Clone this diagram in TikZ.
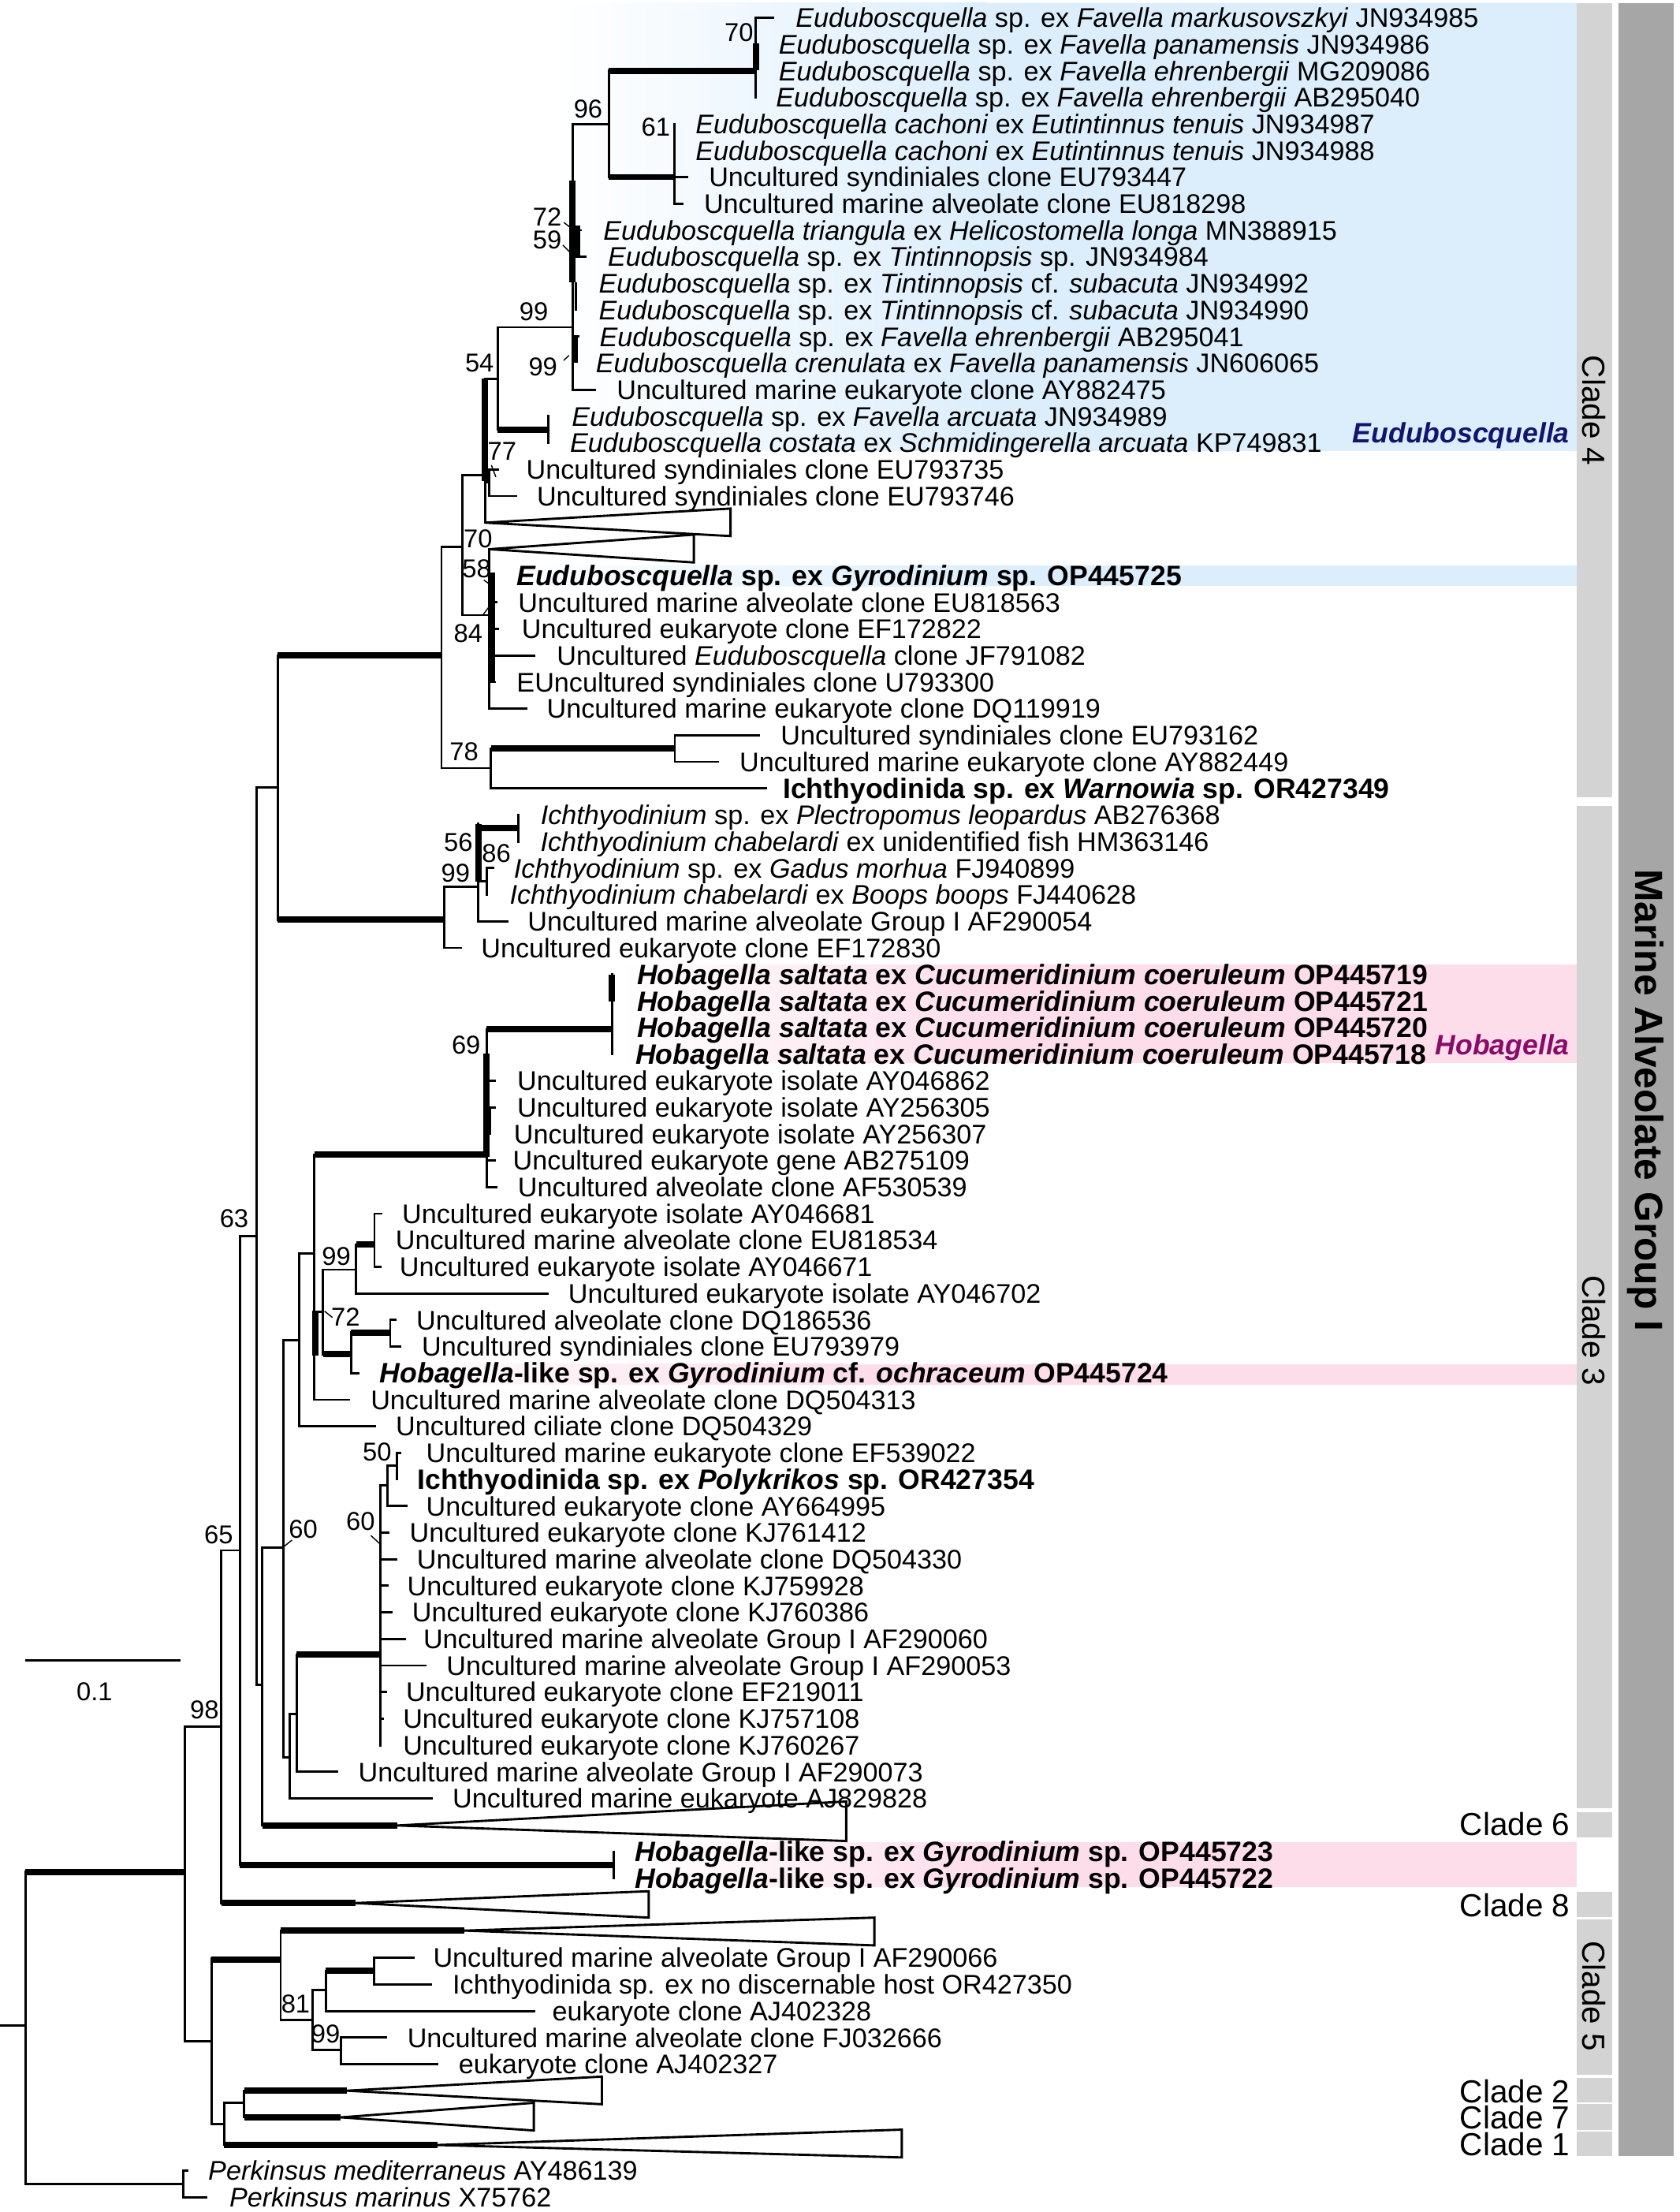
\documentclass[tikz,border=0pt]{standalone}
\usepackage{fontspec}
\setmainfont{Liberation Sans}
\newcommand\lf{\fontsize{19.1}{19.1}\selectfont}
\newcommand\lbf{\fontsize{19.9}{19.9}\selectfont\bfseries}
\newcommand\bsf{\fontsize{18.3}{18.3}\selectfont}
\newcommand\clf{\fontsize{22.6}{22.6}\selectfont}
\newcommand\magf{\fontsize{27.8}{27.8}\selectfont\bfseries}
\definecolor{hlblue}{HTML}{DCEEFC}
\definecolor{hlpink}{HTML}{FDDDEA}
\definecolor{barlight}{HTML}{D3D3D3}
\definecolor{bardark}{HTML}{A6A6A6}
\definecolor{navy}{HTML}{14146E}
\definecolor{plum}{HTML}{8A0A6A}
\begin{document}
\begin{tikzpicture}[x=1pt,y=-1pt,
  br/.style={line width=1.6pt,line cap=rect},
  tk/.style={line width=4.4pt,line cap=butt},
  tri/.style={line width=1.6pt,line join=miter},
  ld/.style={line width=0.8pt},
  lab/.style={anchor=base west,inner sep=0pt,yshift=-6.85pt,font=\lf},
  blab/.style={anchor=base west,inner sep=0pt,yshift=-7.1pt,font=\lbf},
  bs/.style={inner sep=0pt,font=\bsf},
  cl/.style={anchor=base east,inner sep=0pt,yshift=-8.1pt,font=\clf},
  vcl/.style={rotate=-90,inner sep=0pt,font=\clf},
]
\useasboundingbox (0,0) rectangle (1191,1568);
% ---------- highlight boxes ----------
\fill[left color=white,right color=hlblue] (395,2) rectangle (700,319.5);
\fill[hlblue] (699.5,2) rectangle (1118,319.5);
\fill[left color=white,right color=hlblue] (360,401) rectangle (700,415.5);
\fill[hlblue] (699.5,401) rectangle (1118,415.5);
\fill[left color=white,right color=hlpink] (440,683.7) rectangle (700,753.3);
\fill[hlpink] (699.5,683.7) rectangle (1118,753.3);
\fill[left color=white,right color=hlpink] (262,967) rectangle (600,981.4);
\fill[hlpink] (599.5,967) rectangle (1118,981.4);
\fill[left color=white,right color=hlpink] (445,1306) rectangle (700,1337.5);
\fill[hlpink] (699.5,1306) rectangle (1118,1337.5);
% ---------- clade bars ----------
\fill[barlight] (1118,2) rectangle (1143,565.4);
\fill[barlight] (1118,571.4) rectangle (1143,1281.5);
\fill[barlight] (1118,1284.3) rectangle (1143,1302.2);
\fill[barlight] (1118,1341.2) rectangle (1143,1359);
\fill[barlight] (1118,1360.4) rectangle (1143,1470.9);
\fill[barlight] (1118,1473.2) rectangle (1143,1490.4);
\fill[barlight] (1118,1491.6) rectangle (1143,1509.6);
\fill[barlight] (1118,1511) rectangle (1143,1528.2);
\fill[bardark] (1147.4,2) rectangle (1187,1528.2);
\node[vcl] (c4) at (1130.5,291) {Clade 4};
\node[vcl] (c3) at (1130.5,943) {Clade 3};
\node[vcl] (c5) at (1130.5,1415) {Clade 5};
\node[rotate=-90,inner sep=0pt,font=\magf] (mag) at (1167,780) {Marine Alveolate Group I};
\node[cl] (c6) at (1113.3,1293) {Clade 6};
\node[cl] (c8) at (1113.3,1350.3) {Clade 8};
\node[cl] (c2) at (1113.3,1482.3) {Clade 2};
\node[cl] (c7) at (1113.3,1501) {Clade 7};
\node[cl] (c1) at (1113.3,1519.7) {Clade 1};
\node[anchor=base east,inner sep=0pt,yshift=-6.8pt,font=\lbf,text=navy] (gE) at (1113,307) {\textit{Euduboscquella}};
\node[anchor=base east,inner sep=0pt,yshift=-6.6pt,font=\lbf,text=plum] (gH) at (1113,741) {\textit{Hobagella}};
% ---------- scale bar ----------
\draw[br] (18.7,1177)--(127.3,1177);
\node[bs] (sc) at (67,1199) {0.1};
% ---------- tree ----------
% root
\draw[br] (0,1436)--(18,1436);
\draw[br] (18,1327)--(18,1548);
\draw[tk] (18,1327)--(131,1327);
\draw[br] (18,1548)--(130,1548);
\draw[br] (130,1538.5)--(130,1557.4);
\draw[br] (130,1538.5)--(133,1538.5);
\draw[br] (130,1557.4)--(146,1557.4);
% node 98
\draw[br] (131,1224)--(131,1447);
\draw[br] (131,1224)--(157,1224);
\draw[br] (131,1447)--(150,1447);
% node 65
\draw[br] (157,1099)--(157,1349);
\draw[br] (157,1099)--(170,1099);
\draw[tk] (157,1349)--(252,1349);
\draw[tri] (252,1349)--(460,1340.6)--(460,1359.3)--cycle;
% node 170
\draw[br] (170,876)--(170,1322);
\draw[br] (170,876)--(182,876);
\draw[tk] (170,1322)--(435,1322);
\draw[br] (435,1312.5)--(435,1331.3);
% node 182 (63)
\draw[br] (182,558)--(182,1194.5);
\draw[br] (182,558)--(197,558);
\draw[br] (182,1194.5)--(186,1194.5);
% node 197
\draw[br] (197,464.5)--(197,652);
\draw[tk] (197,464.5)--(313,464.5);
\draw[tk] (197,652)--(315,652);
% node 313
\draw[br] (313,387.5)--(313,544.5);
\draw[br] (313,387.5)--(328,387.5);
\draw[br] (313,544.5)--(348,544.5);
% node 78
\draw[br] (348,530.6)--(348,558.9);
\draw[tk] (348,530.6)--(478.5,530.6);
\draw[br] (478.5,521.2)--(478.5,540);
\draw[br] (478.5,521.2)--(538,521.2);
\draw[br] (478.5,540)--(509,540);
\draw[br] (348,558.9)--(543,558.9);
% node 328
\draw[br] (328,337)--(328,436);
\draw[br] (328,337)--(344,337);
\draw[br] (328,436)--(347,436);
% node 344
\draw[br] (344,268.5)--(344,370.5);
\draw[tk] (344,268.5)--(344,341);
\draw[br] (344,268.5)--(353,268.5);
\draw[br] (344,342)--(347,342);
\draw[br] (347,332.8)--(347,351.6);
\draw[br] (347,332.8)--(353,332.8);
\draw[br] (347,351.6)--(366,351.6);
\draw[tri] (344,370.5)--(518,360.5)--(518,380)--cycle;
% node 54
\draw[br] (353,232)--(353,304.5);
\draw[br] (353,232)--(406,232);
\draw[tk] (353,304.5)--(389,304.5);
\draw[br] (389,295.1)--(389,313.9);
% node 406
\draw[br] (406,88)--(406,276.3);
\draw[tk] (406,128)--(406,200);
\draw[br] (406,88)--(431.6,88);
\draw[tk] (409,160)--(409,182);
\draw[br] (409,163.2)--(412,163.2);
\draw[br] (409,182)--(415,182);
\draw[br] (408.5,200.9)--(408.5,219.7);
\draw[tk] (407.5,238.6)--(407.5,257.4);
\draw[br] (407.5,238.6)--(410,238.6);
\draw[br] (406,276.3)--(422,276.3);
% node 96
\draw[br] (431.6,50.2)--(431.6,125.5);
\draw[tk] (431.6,50.2)--(536,50.2);
\draw[tk] (431.6,125.5)--(478,125.5);
\draw[br] (536,12.5)--(536,69);
\draw[tk] (536,31)--(536,50);
\draw[br] (536,12.5)--(548,12.5);
\draw[br] (478,87.9)--(478,144.4);
\draw[br] (478,125.5)--(487,125.5);
\draw[br] (478,144.4)--(484,144.4);
% node 347 (58/84)
\draw[br] (347,389.3)--(347,502.3);
\draw[tri] (347,389.3)--(492,379)--(492,398.7)--cycle;
\draw[tk] (349,406)--(349,484);
\draw[br] (349,427)--(352,427);
\draw[br] (349,445.8)--(353,445.8);
\draw[br] (347,464.7)--(379,464.7);
\draw[br] (349,483.5)--(351,483.5);
\draw[br] (347,502.3)--(373.4,502.3);
% Ichthyodinium
\draw[br] (315,628.8)--(315,671.9);
\draw[br] (315,628.8)--(339.2,628.8);
\draw[br] (315,671.9)--(326.5,671.9);
\draw[br] (339.2,584)--(339.2,653);
\draw[tk] (339.2,584)--(339.2,625);
\draw[tk] (339.2,587)--(367.5,587);
\draw[br] (367.5,577.7)--(367.5,596.5);
\draw[br] (339.2,624.8)--(345,624.8);
\draw[br] (345,615.4)--(345,634.2);
\draw[br] (345,615.4)--(349.7,615.4);
\draw[br] (339.2,653)--(359.6,653);
% node 186
\draw[br] (186,1097)--(186,1294);
\draw[br] (186,1097)--(201,1097);
\draw[tk] (186,1294)--(281.5,1294);
\draw[tri] (281.5,1294)--(600,1277)--(600,1305)--cycle;
% node 201
\draw[br] (201,949.8)--(201,1245.7);
\draw[br] (201,949.8)--(212,949.8);
\draw[br] (201,1245.7)--(205.4,1245.7);
\draw[br] (212,888.6)--(212,1011);
\draw[br] (212,888.6)--(223,888.6);
\draw[br] (212,1011)--(266,1011);
% node 223
\draw[br] (223,818.5)--(223,992.2);
\draw[tk] (223.5,929)--(223.5,961);
\draw[tk] (223,818.5)--(345,818.5);
\draw[br] (223,930)--(229,930);
\draw[br] (223,992.2)--(247.6,992.2);
\draw[br] (229,900)--(229,960);
\draw[br] (229,900)--(252.5,900);
\draw[tk] (229,960)--(249,960);
\draw[br] (252.5,882.2)--(252.5,916.8);
\draw[tk] (252.5,882.2)--(265.5,882.2);
\draw[br] (265.5,860.3)--(265.5,898);
\draw[br] (265.5,860.3)--(270.2,860.3);
\draw[br] (265.5,898)--(269.6,898);
\draw[br] (252.5,916.8)--(388.5,916.8);
\draw[br] (249,944.5)--(249,973.3);
\draw[tk] (249,944.5)--(276.7,944.5);
\draw[br] (276.7,935.7)--(276.7,954.5);
\draw[br] (276.7,935.7)--(280.4,935.7);
\draw[br] (276.7,954.5)--(284,954.5);
\draw[br] (249,973.3)--(254,973.3);
% node 69
\draw[br] (345,729.5)--(345,841.5);
\draw[tk] (345,747)--(345,820);
\draw[tk] (345,729.5)--(434,729.5);
\draw[br] (434,690.7)--(434,747.3);
\draw[tk] (434,690.7)--(434,710);
\draw[br] (345,766.1)--(351,766.1);
\draw[br] (345,794.4)--(347.5,794.4);
\draw[br] (347.5,784.9)--(347.5,803.8);
\draw[br] (347.5,784.9)--(351,784.9);
\draw[br] (345,822.6)--(351,822.6);
\draw[br] (345,841.5)--(352,841.5);
% node 205
\draw[br] (205.4,1214.8)--(205.4,1274.8);
\draw[br] (205.4,1214.8)--(210.3,1214.8);
\draw[br] (205.4,1274.8)--(306.3,1274.8);
\draw[br] (210.3,1172.9)--(210.3,1255.9);
\draw[tk] (210.3,1172.9)--(269.8,1172.9);
\draw[br] (210.3,1255.9)--(239,1255.9);
% node 269.8
\draw[br] (269.8,1053)--(269.8,1237.1);
\draw[br] (269.8,1053)--(274.7,1053);
\draw[br] (274.7,1038.8)--(274.7,1067.5);
\draw[br] (274.7,1038.8)--(281.3,1038.8);
\draw[br] (274.7,1067.5)--(288,1067.5);
\draw[br] (281.3,1029.9)--(281.3,1048.7);
\draw[br] (281.3,1029.9)--(283.5,1029.9);
\draw[br] (269.8,1086.4)--(275.4,1086.4);
\draw[br] (269.8,1105.2)--(281,1105.2);
\draw[br] (269.8,1124.1)--(274.7,1124.1);
\draw[br] (269.8,1142.9)--(277.7,1142.9);
\draw[br] (269.8,1161.7)--(287.3,1161.7);
\draw[br] (269.8,1180.6)--(301.5,1180.6);
\draw[br] (269.8,1199.4)--(273.5,1199.4);
\draw[br] (269.8,1218.3)--(271.5,1218.3);
% node 150
\draw[br] (150,1388)--(150,1505.5);
\draw[tk] (150,1389)--(199,1389);
\draw[br] (150,1505.5)--(159,1505.5);
\draw[br] (199,1368.5)--(199,1432);
\draw[tk] (199,1368.5)--(329.3,1368.5);
\draw[tri] (329.3,1368.5)--(620,1359.3)--(620,1379)--cycle;
\draw[br] (199,1432)--(221.5,1432);
\draw[br] (221.5,1410.5)--(221.5,1453.3);
\draw[br] (221.5,1410.5)--(231,1410.5);
\draw[br] (221.5,1453.3)--(241.6,1453.3);
\draw[br] (231,1397)--(231,1425.5);
\draw[tk] (231,1397)--(265.2,1397);
\draw[br] (231,1425.5)--(378.5,1425.5);
\draw[br] (265.2,1387.8)--(265.2,1406.7);
\draw[br] (265.2,1387.8)--(293,1387.8);
\draw[br] (265.2,1406.7)--(305.8,1406.7);
\draw[br] (241.6,1444.3)--(241.6,1463.2);
\draw[br] (241.6,1444.3)--(273.7,1444.3);
\draw[br] (241.6,1463.2)--(310,1463.2);
\draw[br] (159,1490.6)--(159,1520.5);
\draw[br] (159,1490.6)--(173.2,1490.6);
\draw[tk] (159,1520.5)--(310,1520.5);
\draw[tri] (310,1520.5)--(639.4,1509.6)--(639.4,1529.3)--cycle;
\draw[br] (173.2,1482)--(173.2,1500.9);
\draw[tk] (173.2,1482)--(245.9,1482);
\draw[tri] (245.9,1482)--(426.8,1472)--(426.8,1491.6)--cycle;
\draw[tk] (173.2,1500.9)--(241.6,1500.9);
\draw[tri] (241.6,1500.9)--(378.5,1490.6)--(378.5,1510.2)--cycle;
% ---------- bootstrap values ----------
\node[bs] (s1) at (524,23) {70};
\node[bs] (s2) at (417,77) {96};
\node[bs] (s3) at (465,90) {61};
\node[bs] (s4) at (388,154) {72};
\draw[ld] (399.8,157.7)--(405,161.7);
\node[bs] (s5) at (388,170) {59};
\draw[ld] (399,173.7)--(405,179.7);
\node[bs] (s6) at (378.5,221) {99};
\node[bs] (s7) at (340,257.5) {54};
\node[bs] (s8) at (385,260) {99};
\draw[ld] (399.7,255.5)--(403.5,251.9);
\node[bs] (s9) at (356,320) {77};
\draw[ld] (348.4,329.7)--(351.6,338.1);
\node[bs] (s10) at (339,382) {70};
\node[bs] (s11) at (338,403) {58};
\draw[ld] (343,411.2)--(348.5,414.9);
\node[bs] (s12) at (332,449) {84};
\draw[ld] (342.2,436.2)--(346.4,430.6);
\node[bs] (s13) at (329,533) {78};
\node[bs] (s14) at (325,597) {56};
\node[bs] (s15) at (352,605) {86};
\node[bs] (s16) at (323,619) {99};
\node[bs] (s17) at (330.5,740.6) {69};
\node[bs] (s18) at (238.5,890.6) {99};
\node[bs] (s19) at (245,933.4) {72};
\draw[ld] (230.1,929.4)--(235.7,933.9);
\node[bs] (s20) at (166,864) {63};
\node[bs] (s21) at (215,1084) {60};
\draw[ld] (201.3,1096.3)--(207,1091.7);
\node[bs] (s22) at (267.4,1029.5) {50};
\node[bs] (s23) at (255.7,1078.6) {60};
\draw[ld] (263,1088.5)--(269,1094);
\node[bs] (s24) at (155,1088) {65};
\node[bs] (s25) at (145,1212) {98};
\node[bs] (s26) at (209.6,1420.7) {81};
\node[bs] (s27) at (230.9,1442) {99};
% ---------- leaf labels ----------
\node[lab] (l1) at (564,12.5) {\textit{Euduboscquella} sp. ex \textit{Favella markusovszkyi} JN934985};
\node[lab] (l2) at (552,31.34) {\textit{Euduboscquella} sp. ex \textit{Favella panamensis} JN934986};
\node[lab] (l3) at (552,50.18) {\textit{Euduboscquella} sp. ex \textit{Favella ehrenbergii} MG209086};
\node[lab] (l4) at (550,69.02) {\textit{Euduboscquella} sp. ex \textit{Favella ehrenbergii} AB295040};
\node[lab] (l5) at (493,87.86) {\textit{Euduboscquella cachoni} ex \textit{Eutintinnus tenuis} JN934987};
\node[lab] (l6) at (493,106.7) {\textit{Euduboscquella cachoni} ex \textit{Eutintinnus tenuis} JN934988};
\node[lab] (l7) at (502.5,125.54) {Uncultured syndiniales clone EU793447};
\node[lab] (l8) at (499,144.38) {Uncultured marine alveolate clone EU818298};
\node[lab] (l9) at (427.6,163.22) {\textit{Euduboscquella triangula} ex \textit{Helicostomella longa} MN388915};
\node[lab] (l10) at (430.8,182.06) {\textit{Euduboscquella} sp. ex \textit{Tintinnopsis} sp. JN934984};
\node[lab] (l11) at (424.4,200.9) {\textit{Euduboscquella} sp. ex \textit{Tintinnopsis} cf. \textit{subacuta} JN934992};
\node[lab] (l12) at (424.4,219.74) {\textit{Euduboscquella} sp. ex \textit{Tintinnopsis} cf. \textit{subacuta} JN934990};
\node[lab] (l13) at (425,238.58) {\textit{Euduboscquella} sp. ex \textit{Favella ehrenbergii} AB295041};
\node[lab] (l14) at (422.3,257.42) {\textit{Euduboscquella crenulata} ex \textit{Favella panamensis} JN606065};
\node[lab] (l15) at (437.2,276.26) {Uncultured marine eukaryote clone AY882475};
\node[lab] (l16) at (405.3,295.1) {\textit{Euduboscquella} sp. ex \textit{Favella arcuata} JN934989};
\node[lab] (l17) at (404,313.94) {\textit{Euduboscquella costata} ex \textit{Schmidingerella arcuata} KP749831};
\node[lab] (l18) at (373,332.78) {Uncultured syndiniales clone EU793735};
\node[lab] (l19) at (380.5,351.62) {Uncultured syndiniales clone EU793746};
\node[blab] (l22) at (366.2,408.14) {\textit{Euduboscquella} sp. ex \textit{Gyrodinium} sp. OP445725};
\node[lab] (l23) at (367.3,426.98) {Uncultured marine alveolate clone EU818563};
\node[lab] (l24) at (369.8,445.82) {Uncultured eukaryote clone EF172822};
\node[lab] (l25) at (394.7,464.66) {Uncultured \textit{Euduboscquella} clone JF791082};
\node[lab] (l26) at (366.2,483.5) {EUncultured syndiniales clone U793300};
\node[lab] (l27) at (387.6,502.34) {Uncultured marine eukaryote clone DQ119919};
\node[lab] (l28) at (553.4,521.18) {Uncultured syndiniales clone EU793162};
\node[lab] (l29) at (524.2,540.02) {Uncultured marine eukaryote clone AY882449};
\node[blab] (l30) at (555,558.86) {Ichthyodinida sp. ex \textit{Warnowia} sp. OR427349};
\node[lab] (l31) at (383.2,577.7) {\textit{Ichthyodinium} sp. ex \textit{Plectropomus leopardus} AB276368};
\node[lab] (l32) at (383,596.54) {\textit{Ichthyodinium chabelardi} ex unidentified fish HM363146};
\node[lab] (l33) at (364.2,615.38) {\textit{Ichthyodinium} sp. ex \textit{Gadus morhua} FJ940899};
\node[lab] (l34) at (361.2,634.22) {\textit{Ichthyodinium chabelardi} ex \textit{Boops boops} FJ440628};
\node[lab] (l35) at (374,653.06) {Uncultured marine alveolate Group I AF290054};
\node[lab] (l36) at (341,671.9) {Uncultured eukaryote clone EF172830};
\node[blab] (l37) at (451.6,690.74) {\textit{Hobagella saltata} ex \textit{Cucumeridinium coeruleum} OP445719};
\node[blab] (l38) at (451.6,709.58) {\textit{Hobagella saltata} ex \textit{Cucumeridinium coeruleum} OP445721};
\node[blab] (l39) at (451.6,728.42) {\textit{Hobagella saltata} ex \textit{Cucumeridinium coeruleum} OP445720};
\node[blab] (l40) at (450.5,747.26) {\textit{Hobagella saltata} ex \textit{Cucumeridinium coeruleum} OP445718};
\node[lab] (l41) at (366.6,766.1) {Uncultured eukaryote isolate AY046862};
\node[lab] (l42) at (366.6,784.94) {Uncultured eukaryote isolate AY256305};
\node[lab] (l43) at (364.2,803.78) {Uncultured eukaryote isolate AY256307};
\node[lab] (l44) at (363.5,822.62) {Uncultured eukaryote gene AB275109};
\node[lab] (l45) at (367,841.46) {Uncultured alveolate clone AF530539};
\node[lab] (l46) at (285,860.3) {Uncultured eukaryote isolate AY046681};
\node[lab] (l47) at (280.4,879.14) {Uncultured marine alveolate clone EU818534};
\node[lab] (l48) at (283.2,897.98) {Uncultured eukaryote isolate AY046671};
\node[lab] (l49) at (402.8,916.82) {Uncultured eukaryote isolate AY046702};
\node[lab] (l50) at (295,935.66) {Uncultured alveolate clone DQ186536};
\node[lab] (l51) at (299,954.5) {Uncultured syndiniales clone EU793979};
\node[blab] (l52) at (269.2,973.34) {\textit{Hobagella}-like sp. ex \textit{Gyrodinium} cf. \textit{ochraceum} OP445724};
\node[lab] (l53) at (262.7,992.18) {Uncultured marine alveolate clone DQ504313};
\node[lab] (l54) at (280.5,1011.02) {Uncultured ciliate clone DQ504329};
\node[lab] (l55) at (302,1029.86) {Uncultured marine eukaryote clone EF539022};
\node[blab] (l56) at (295.9,1048.7) {Ichthyodinida sp. ex \textit{Polykrikos} sp. OR427354};
\node[lab] (l57) at (302,1067.54) {Uncultured eukaryote clone AY664995};
\node[lab] (l58) at (290.3,1086.38) {Uncultured eukaryote clone KJ761412};
\node[lab] (l59) at (295.5,1105.22) {Uncultured marine alveolate clone DQ504330};
\node[lab] (l60) at (288.6,1124.06) {Uncultured eukaryote clone KJ759928};
\node[lab] (l61) at (292.1,1142.9) {Uncultured eukaryote clone KJ760386};
\node[lab] (l62) at (300,1161.74) {Uncultured marine alveolate Group I AF290060};
\node[lab] (l63) at (316.4,1180.58) {Uncultured marine alveolate Group I AF290053};
\node[lab] (l64) at (287.7,1199.42) {Uncultured eukaryote clone EF219011};
\node[lab] (l65) at (285.6,1218.26) {Uncultured eukaryote clone KJ757108};
\node[lab] (l66) at (285.6,1237.1) {Uncultured eukaryote clone KJ760267};
\node[lab] (l67) at (254,1255.94) {Uncultured marine alveolate Group I AF290073};
\node[lab] (l68) at (320.8,1274.78) {Uncultured marine eukaryote AJ829828};
\node[blab] (l70) at (450,1312.46) {\textit{Hobagella}-like sp. ex \textit{Gyrodinium} sp. OP445723};
\node[blab] (l71) at (450,1331.3) {\textit{Hobagella}-like sp. ex \textit{Gyrodinium} sp. OP445722};
\node[lab] (l74) at (307,1387.82) {Uncultured marine alveolate Group I AF290066};
\node[lab] (l75) at (320.8,1406.66) {Ichthyodinida sp. ex no discernable host OR427350};
\node[lab] (l76) at (391.4,1425.5) {eukaryote clone AJ402328};
\node[lab] (l77) at (288.7,1444.34) {Uncultured marine alveolate clone FJ032666};
\node[lab] (l78) at (325,1463.18) {eukaryote clone AJ402327};
\node[lab] (l82) at (147.5,1538.54) {\textit{Perkinsus mediterraneus} AY486139};
\node[lab] (l83) at (162.5,1557.38) {\textit{Perkinsus marinus} X75762};
\end{tikzpicture}
\end{document}
